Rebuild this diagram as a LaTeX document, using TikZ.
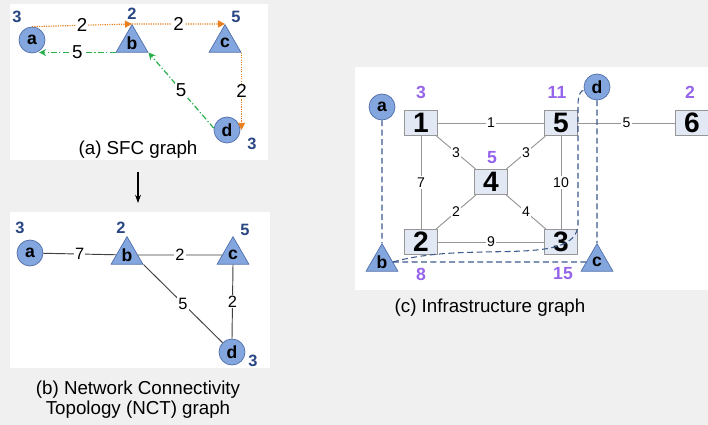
\documentclass[tikz,border=0pt]{standalone}
\usepackage{fontspec}
\setmainfont{Liberation Sans}
\usetikzlibrary{shapes.geometric,arrows.meta}

\definecolor{pagegray}{RGB}{240,240,240}
\definecolor{nodeblue}{RGB}{132,166,222}
\definecolor{nodeedge}{RGB}{80,110,170}
\definecolor{boxfill}{RGB}{226,232,244}
\definecolor{boxedge}{RGB}{150,150,150}
\definecolor{capnavy}{RGB}{40,70,130}
\definecolor{cappurple}{RGB}{150,100,235}
\definecolor{floworange}{RGB}{232,128,32}
\definecolor{flowgreen}{RGB}{40,175,75}
\definecolor{mapblue}{RGB}{60,90,140}

\begin{document}
\begin{tikzpicture}[x=0.03cm, y=-0.03cm,
  circnode/.style={circle, fill=nodeblue, draw=nodeedge, line width=0.6pt, minimum size=0.78cm, inner sep=0pt, font=\bfseries\fontsize{15}{15}\selectfont},
  trinode/.style={regular polygon, regular polygon sides=3, fill=nodeblue, draw=nodeedge, line width=0.6pt, minimum size=1.1cm, inner sep=0pt, font=\bfseries\fontsize{15}{15}\selectfont},
  infbox/.style={rectangle, fill=boxfill, draw=boxedge, line width=0.8pt, minimum width=0.99cm, minimum height=0.75cm, inner sep=0pt, font=\bfseries\fontsize{24}{24}\selectfont},
  capnavy/.style={font=\bfseries\fontsize{14}{14}\selectfont, text=capnavy},
  cappur/.style={font=\bfseries\fontsize{15}{15}\selectfont, text=cappurple},
  wlabel/.style={fill=white, text=black, inner sep=1pt},
  caption/.style={font=\fontsize{16}{17}\selectfont, align=center},
  sfcfwd/.style={floworange, densely dotted, line width=1pt, -{Triangle[length=6pt,width=6pt]}},
  sfcback/.style={flowgreen, dash pattern=on 5pt off 2pt on 1pt off 2pt, line width=1pt, -{Stealth[length=6pt,width=6pt]}},
  nctline/.style={black!75, line width=0.8pt},
  infline/.style={boxedge, line width=0.8pt},
  mapline/.style={mapblue, dash pattern=on 5pt off 3pt, line width=0.9pt}]

\useasboundingbox (0,0) rectangle (708,425);
\fill[pagegray] (0,0) rectangle (708,425);
\fill[white] (10,4) rectangle (268,160);
\fill[white] (10,212) rectangle (270,368);
\fill[white] (355,67) rectangle (708,290);

% SFC graph
\begin{scope}
\node[circnode] (a) at (32,40) {a};
\node[trinode] (b) at (132,43) {b};
\node[trinode] (c) at (225,43) {c};
\node[circnode] (d) at (227,130) {d};

\node[capnavy] at (17,17) {3};
\node[capnavy] at (132,14) {2};
\node[capnavy] at (236,17) {5};
\node[capnavy] at (252,144) {3};

\draw[sfcfwd] (a.north) -- node[wlabel, font=\fontsize{16}{16}\selectfont] {2} (b.north);
\draw[sfcfwd] (b.north) -- node[wlabel, font=\fontsize{16}{16}\selectfont] {2} (c.north);
\draw[sfcfwd] (c.corner 3) -- node[wlabel, font=\fontsize{16}{16}\selectfont] {2} (c.corner 3 |- d.east);
\draw[sfcback] (b.corner 2) -- node[wlabel, font=\fontsize{16}{16}\selectfont] {5} (a.-58 |- b.corner 2);
\draw[sfcback] (d.172) -- node[wlabel, font=\fontsize{16}{16}\selectfont] {5} (b.corner 3);

\node[caption] (capa) at (138,150) {(a) SFC graph};
\end{scope}

\coordinate (arrtop) at (138,172);
\coordinate (arrbot) at (138,203);
\draw[line width=1pt, -{Stealth[length=7pt,width=5pt]}] (arrtop) -- (arrbot);

% NCT graph
\begin{scope}
\node[circnode] (a) at (30,253) {a};
\node[trinode] (b) at (127,255) {b};
\node[trinode] (c) at (233,255) {c};
\node[circnode] (d) at (232,352) {d};

\node[capnavy] at (20,228) {3};
\node[capnavy] at (121,228) {2};
\node[capnavy] at (245,230) {5};
\node[capnavy] at (253,361) {3};

\draw[nctline] (a) -- node[wlabel, font=\fontsize{14}{14}\selectfont] {7} (b);
\draw[nctline] (b) -- node[wlabel, font=\fontsize{14}{14}\selectfont] {2} (c);
\draw[nctline] (b.corner 3) -- node[wlabel, font=\fontsize{14}{14}\selectfont] {5} (d);
\draw[nctline] (c.south) -- node[wlabel, font=\fontsize{14}{14}\selectfont] {2} (d.north);

\node[caption] (capb) at (138,400) {(b) Network Connectivity\\Topology (NCT) graph};
\end{scope}

% Infrastructure graph
\begin{scope}
\node[infbox] (n1) at (421,123) {1};
\node[infbox] (n5) at (561,123) {5};
\node[infbox] (n6) at (692,123) {6};
\node[infbox] (n4) at (491,182) {4};
\node[infbox] (n2) at (421,242) {2};
\node[infbox] (n3) at (561,242) {3};

\node[cappur] at (421,92) {3};
\node[cappur] at (557,92) {11};
\node[cappur] at (690,92) {2};
\node[cappur] at (492,158) {5};
\node[cappur] at (421,274) {8};
\node[cappur] at (563,274) {15};

\draw[infline] (n1) -- node[wlabel, font=\fontsize{12}{12}\selectfont] {1} (n5);
\draw[infline] (n5) -- node[wlabel, font=\fontsize{12}{12}\selectfont] {5} (n6);
\draw[infline] (n1) -- node[wlabel, font=\fontsize{12}{12}\selectfont] {7} (n2);
\draw[infline] (n1) -- node[wlabel, font=\fontsize{12}{12}\selectfont] {3} (n4);
\draw[infline] (n5) -- node[wlabel, font=\fontsize{12}{12}\selectfont] {3} (n4);
\draw[infline] (n4) -- node[wlabel, font=\fontsize{12}{12}\selectfont] {2} (n2);
\draw[infline] (n4) -- node[wlabel, font=\fontsize{12}{12}\selectfont] {4} (n3);
\draw[infline] (n5) -- node[wlabel, font=\fontsize{12}{12}\selectfont] {10} (n3);
\draw[infline] (n2) -- node[wlabel, font=\fontsize{12}{12}\selectfont] {9} (n3);

\node[circnode] (a) at (382,107) {a};
\node[trinode] (b) at (382,262) {b};
\node[trinode] (c) at (597,262) {c};
\node[circnode] (d) at (597,87) {d};

\coordinate (bd1) at (578,225);
\coordinate (bd2) at (578,106);
\draw[mapline] (a) -- (b);
\draw[mapline] (d) -- (c);
\draw[mapline] (b) -- (c);
\draw[mapline] (b.east) .. controls (470,240) and (575,268) .. (bd1) -- (bd2) .. controls (578,94) and (581,90) .. (d.195);

\node[caption] (capc) at (490,308) {(c) Infrastructure graph};
\end{scope}
\end{tikzpicture}
\end{document}
